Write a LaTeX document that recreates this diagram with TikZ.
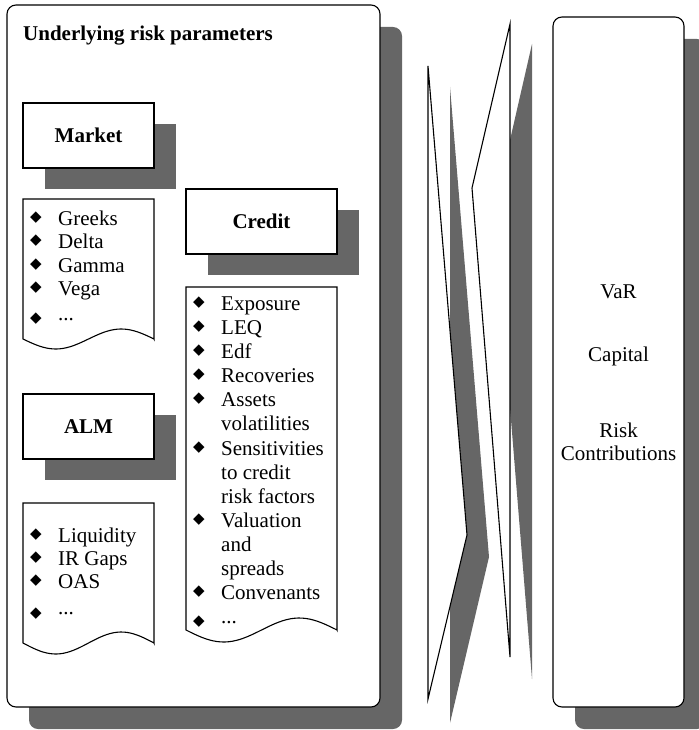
\documentclass[tikz,border=0pt]{standalone}
\usepackage{fontspec}
\setmainfont{Liberation Serif}
\newfontfamily\symfont{DejaVu Sans}
\usetikzlibrary{shadows}
\definecolor{shadowGray}{RGB}{102,102,102}

\tikzset{
  panel/.style={draw, line width=1.1pt, fill=white, rounded corners=9pt,
    general shadow={fill=shadowGray, shadow xshift=22pt, shadow yshift=-22pt}},
  headbox/.style={draw, line width=1.1pt, fill=white, minimum height=65pt,
    font=\fontsize{21}{24}\selectfont\bfseries,
    general shadow={fill=shadowGray, shadow xshift=22pt, shadow yshift=-21pt}},
  docbox/.style={draw, line width=1.1pt, fill=white},
  item/.style={anchor=base west, inner sep=0pt},
  bulletmark/.style={inner sep=0pt, font=\fontsize{15}{15}\selectfont\symfont},
  wedge/.style={draw, line width=1.1pt, fill=white},
  wedgeshadow/.style={fill=shadowGray}
}

\begin{document}
\begin{tikzpicture}[x=1pt,y=-1pt, font=\fontsize{21}{24}\selectfont]
    \useasboundingbox (0,0) rectangle (698,730);

    % outer panels
    \draw[panel] (7,5) rectangle (380,707);
    \draw[panel] (553,17) rectangle (684,707);

    \node[item, font=\fontsize{21}{24}\selectfont\bfseries] (title) at (23,41) {Underlying risk parameters};

    % headings
    \node[headbox, minimum width=131pt] (mkt) at (88.5,135.5) {Market};
    \node[headbox, minimum width=151pt] (crd) at (261.5,221.5) {Credit};
    \node[headbox, minimum width=131pt] (alm) at (88.5,426.5) {ALM};

    % list sheets with wavy bottom
    \draw[docbox] (154,339) -- (154,199) -- (23,199) -- (23,339)
        -- plot[smooth, samples=40, domain=23:154] (\x,{339+10*sin((\x-23)/131*360)}) -- cycle;
    \draw[docbox] (337,630) -- (337,287) -- (186,287) -- (186,630)
        -- plot[smooth, samples=40, domain=186:337] (\x,{630+12*sin((\x-186)/151*360)}) -- cycle;
    \draw[docbox] (154,643) -- (154,503) -- (23,503) -- (23,643)
        -- plot[smooth, samples=40, domain=23:154] (\x,{643+11*sin((\x-23)/131*360)}) -- cycle;

    % market items
    \foreach \yy/\txt [count=\i] in {225/Greeks,248/Delta,272/Gamma,295/Vega}
        \node[item] (mkt\i) at (58,\yy) {\txt};
    \node[item] (mkt5) at (58,320) {...};
    \foreach \yy [count=\i] in {218,241,265,288,319}
        \node[bulletmark] (mktb\i) at (36,\yy) {◆};

    % credit items
    \foreach \yy/\txt [count=\i] in {310/Exposure,334/LEQ,358/Edf,382/Recoveries,
        406/Assets,430/volatilities,455/Sensitivities,479/to credit,503/risk factors,
        527/Valuation,551/and,575/spreads,599/Convenants}
        \node[item] (crd\i) at (221,\yy) {\txt};
    \node[item] (crd14) at (221,623) {...};
    \foreach \yy [count=\i] in {303,327,351,375,399,448,520,592,622}
        \node[bulletmark] (crdb\i) at (199,\yy) {◆};

    % alm items
    \foreach \yy/\txt [count=\i] in {542/Liquidity,565/IR Gaps,588/OAS}
        \node[item] (alm\i) at (58,\yy) {\txt};
    \node[item] (alm4) at (58,614) {...};
    \foreach \yy [count=\i] in {535,558,581,614}
        \node[bulletmark] (almb\i) at (36,\yy) {◆};

    % wedges between the panels
    \fill[wedgeshadow] (450,87) -- (489,557) -- (450,723) -- cycle;
    \draw[wedge] (428,66) -- (467,535) -- (428,699) -- cycle;
    \fill[wedgeshadow] (532,44) -- (494,210) -- (532,679) -- cycle;
    \draw[wedge] (510,24) -- (472,188) -- (510,657) -- cycle;

    % results
    \node[anchor=base] (var) at (618.5,298) {VaR};
    \node[anchor=base] (cap) at (618.5,361) {Capital};
    \node[anchor=base] (risk) at (618.5,437) {Risk};
    \node[anchor=base] (contrib) at (618.5,460) {Contributions};
\end{tikzpicture}
\end{document}
